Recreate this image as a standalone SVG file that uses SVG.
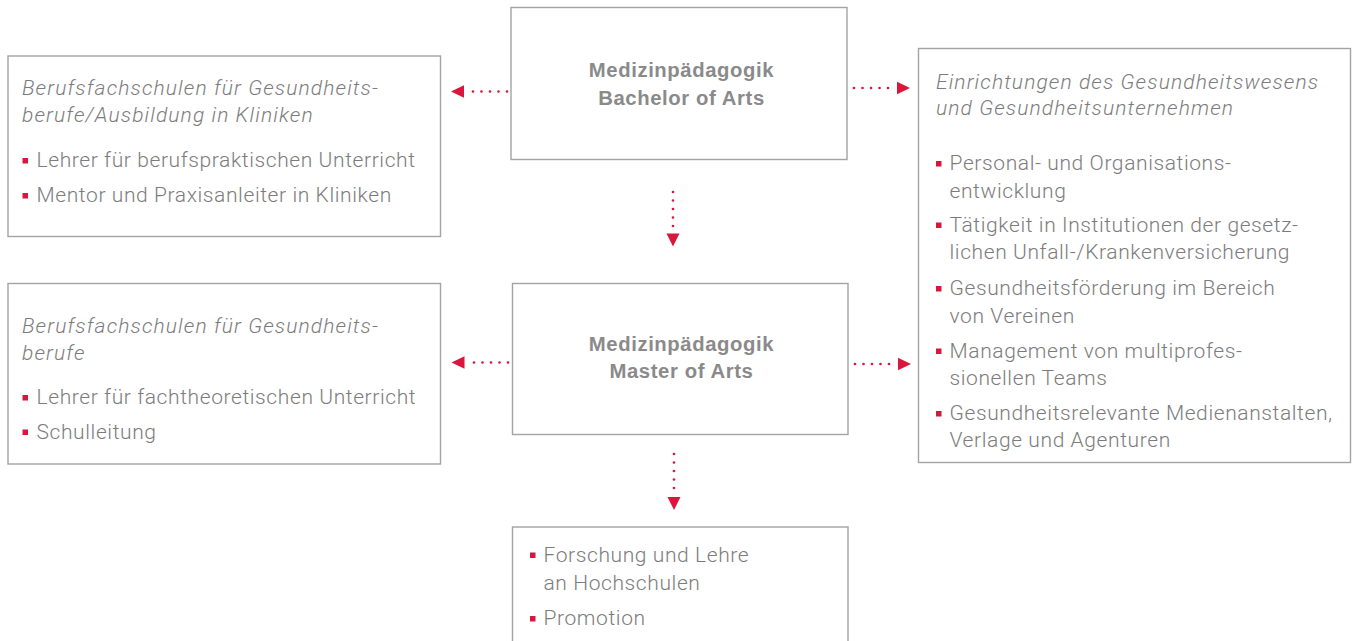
<svg xmlns="http://www.w3.org/2000/svg" width="1356" height="641" viewBox="0 0 1356 641">
<style>
.box{fill:#fff;stroke:#a3a3a3;stroke-width:1.4}
.t{font-family:Roboto,"Liberation Sans",sans-serif;font-weight:300;font-size:21px;letter-spacing:0.6px;fill:#7c7c7c}
.i{font-style:italic;letter-spacing:1.1px}
.b{font-family:"Liberation Sans",Arial,sans-serif;font-weight:bold;font-size:20.3px;letter-spacing:0.6px;fill:#8a8a8a;text-anchor:middle}
.bul{fill:#d9163c}
.dot{fill:none;stroke:#d9163c;stroke-width:2.7;stroke-linecap:round;stroke-dasharray:0 8.5}
.ah{fill:#d9163c}
</style>
<rect width="1356" height="641" fill="#fff"/>

<g id="node-bachelor">
<rect class="box" x="511" y="7.5" width="336" height="152"/>
<text class="b" x="681.5" y="77">Medizinpädagogik</text>
<text class="b" x="681.5" y="105">Bachelor of Arts</text>
</g>

<g id="node-master">
<rect class="box" x="512.5" y="283.5" width="335.5" height="151"/>
<text class="b" x="681.5" y="351">Medizinpädagogik</text>
<text class="b" x="681.5" y="378">Master of Arts</text>
</g>

<g id="node-left-top">
<rect class="box" x="8" y="56" width="432.5" height="180.5"/>
<text class="t i" x="22" y="95">Berufsfachschulen für Gesundheits-</text>
<text class="t i" x="22" y="122">berufe/Ausbildung in Kliniken</text>
<rect class="bul" x="22.5" y="158" width="5.5" height="5.5"/>
<text class="t" x="36.5" y="167">Lehrer für berufspraktischen Unterricht</text>
<rect class="bul" x="22.5" y="193" width="5.5" height="5.5"/>
<text class="t" x="36.5" y="202">Mentor und Praxisanleiter in Kliniken</text>
</g>

<g id="node-left-bottom">
<rect class="box" x="8" y="283.5" width="432.5" height="180.5"/>
<text class="t i" x="22" y="332.5">Berufsfachschulen für Gesundheits-</text>
<text class="t i" x="22" y="360">berufe</text>
<rect class="bul" x="22.5" y="395" width="5.5" height="5.5"/>
<text class="t" x="36.5" y="404">Lehrer für fachtheoretischen Unterricht</text>
<rect class="bul" x="22.5" y="429.5" width="5.5" height="5.5"/>
<text class="t" x="36.5" y="438.5">Schulleitung</text>
</g>

<g id="node-right">
<rect class="box" x="918.5" y="48.5" width="432" height="414"/>
<text class="t i" x="936" y="88.5">Einrichtungen des Gesundheitswesens</text>
<text class="t i" x="936" y="115">und Gesundheitsunternehmen</text>
<rect class="bul" x="936" y="161" width="5.5" height="5.5"/>
<text class="t" x="949.5" y="170">Personal- und Organisations-</text>
<text class="t" x="949.5" y="197.5">entwicklung</text>
<rect class="bul" x="936" y="222.5" width="5.5" height="5.5"/>
<text class="t" x="949.5" y="231.5">Tätigkeit in Institutionen der gesetz-</text>
<text class="t" x="949.5" y="259">lichen Unfall-/Krankenversicherung</text>
<rect class="bul" x="936" y="286" width="5.5" height="5.5"/>
<text class="t" x="949.5" y="295">Gesundheitsförderung im Bereich</text>
<text class="t" x="949.5" y="322.5">von Vereinen</text>
<rect class="bul" x="936" y="348.5" width="5.5" height="5.5"/>
<text class="t" x="949.5" y="357.5">Management von multiprofes-</text>
<text class="t" x="949.5" y="385">sionellen Teams</text>
<rect class="bul" x="936" y="411" width="5.5" height="5.5"/>
<text class="t" x="949.5" y="420">Gesundheitsrelevante Medienanstalten,</text>
<text class="t" x="949.5" y="446.5">Verlage und Agenturen</text>
</g>

<g id="node-bottom">
<rect class="box" x="512.5" y="527" width="335.5" height="130"/>
<rect class="bul" x="530" y="552.5" width="5.5" height="5.5"/>
<text class="t" x="543.5" y="561.5">Forschung und Lehre</text>
<text class="t" x="543.5" y="590">an Hochschulen</text>
<rect class="bul" x="530" y="616" width="5.5" height="5.5"/>
<text class="t" x="543.5" y="625">Promotion</text>
</g>

<g id="connectors">
<path class="dot" d="M507 91.5H468"/>
<polygon class="ah" points="451,91.5 464,85.2 464,97.8"/>
<path class="dot" d="M854 88H892"/>
<polygon class="ah" points="910,88 897,81.7 897,94.3"/>
<path class="dot" d="M673 192V228"/>
<polygon class="ah" points="673,246.5 666.5,233.5 679.5,233.5"/>
<path class="dot" d="M508 362.5H469"/>
<polygon class="ah" points="451.5,362.5 464.5,356.2 464.5,368.8"/>
<path class="dot" d="M855 364H893"/>
<polygon class="ah" points="911,364 898,357.7 898,370.3"/>
<path class="dot" d="M674 454V490"/>
<polygon class="ah" points="674,510 667.5,497 680.5,497"/>
</g>
</svg>
